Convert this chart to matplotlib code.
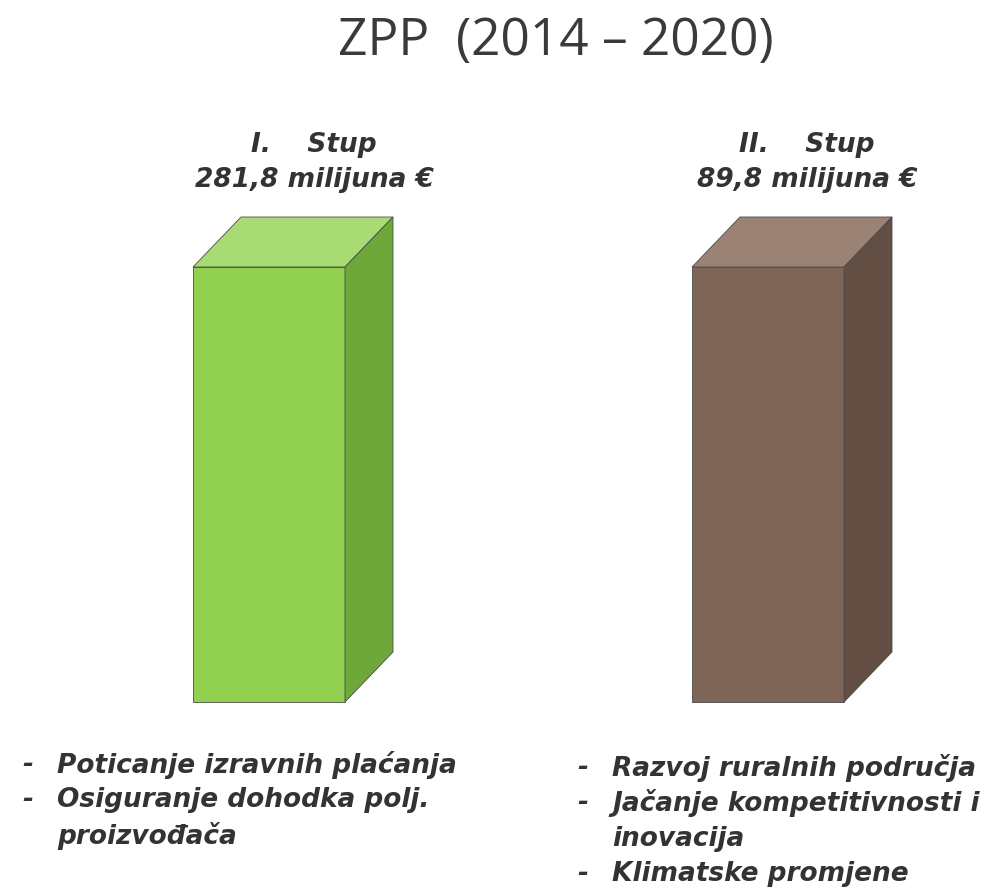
import matplotlib
matplotlib.use('Agg')
import matplotlib.pyplot as plt
from matplotlib.patches import Polygon

# data
stupovi = ['I.    Stup', 'II.    Stup']
iznosi = ['281,8', '89,8']
visine = [1.0, 1.0]  # boxes are drawn the same height in the original
boje_lice = ['#92d050', '#7f6558']
boje_vrh = ['#a8db74', '#9a8274']
boje_bok = ['#6fa83a', '#634e43']
opis_lijevo = ['Poticanje izravnih plaćanja', 'Osiguranje dohodka polj.\nproizvođača']
opis_desno = ['Razvoj ruralnih područja', 'Jačanje kompetitivnosti i\ninovacija', 'Klimatske promjene']

W, H = 992, 895
fig = plt.figure(figsize=(W / 100, H / 100), dpi=100)
ax = fig.add_axes([0, 0, 1, 1])
# x in pixels, y: 0 at box bottom, 1 at box top
y0, y1 = 703, 268
sc = y0 - y1
ax.set_xlim(0, W)
ax.set_ylim((y0 - H) / sc, y0 / sc)
ax.axis('off')

x_lice = [193, 692]
sirina = 152
dx, dy = 48, 50 / sc

bars = ax.bar(x_lice, visine, width=sirina, align='edge', color=boje_lice,
              edgecolor='#4a4a4a', linewidth=0.6)
for b, cv, cb in zip(bars, boje_vrh, boje_bok):
    l, r, t = b.get_x(), b.get_x() + b.get_width(), b.get_height()
    ax.add_patch(Polygon([(l, t), (r, t), (r + dx, t + dy), (l + dx, t + dy)],
                         closed=True, facecolor=cv, edgecolor='#4a4a4a', lw=0.6))
    ax.add_patch(Polygon([(r, 0), (r + dx, dy), (r + dx, t + dy), (r, t)],
                         closed=True, facecolor=cb, edgecolor='#4a4a4a', lw=0.6))

def py(p):
    return (y0 - p) / sc

txt = dict(color='#333333', fontweight='bold', fontstyle='italic', family='DejaVu Sans')
ax.text(556, py(42), 'ZPP  (2014 – 2020)', ha='center', va='center',
        fontsize=37, color='#3a3a3a', family='Open Sans')

for xc, s, v in zip([314, 807], stupovi, iznosi):
    ax.text(xc, py(145), s, ha='center', va='center', fontsize=19, **txt)
    ax.text(xc, py(180), v + ' milijuna €', ha='center', va='center', fontsize=19, **txt)

def lista(x, ytop, stavke):
    yy = ytop
    for s in stavke:
        ax.text(x, py(yy), '-', ha='left', va='center', fontsize=19, **txt)
        for red in s.split('\n'):
            ax.text(x + 35, py(yy), red, ha='left', va='center', fontsize=19, **txt)
            yy += 35.5

lista(22, 765, opis_lijevo)
lista(577, 768, opis_desno)

fig.savefig('out.png', dpi=100, facecolor='white')
